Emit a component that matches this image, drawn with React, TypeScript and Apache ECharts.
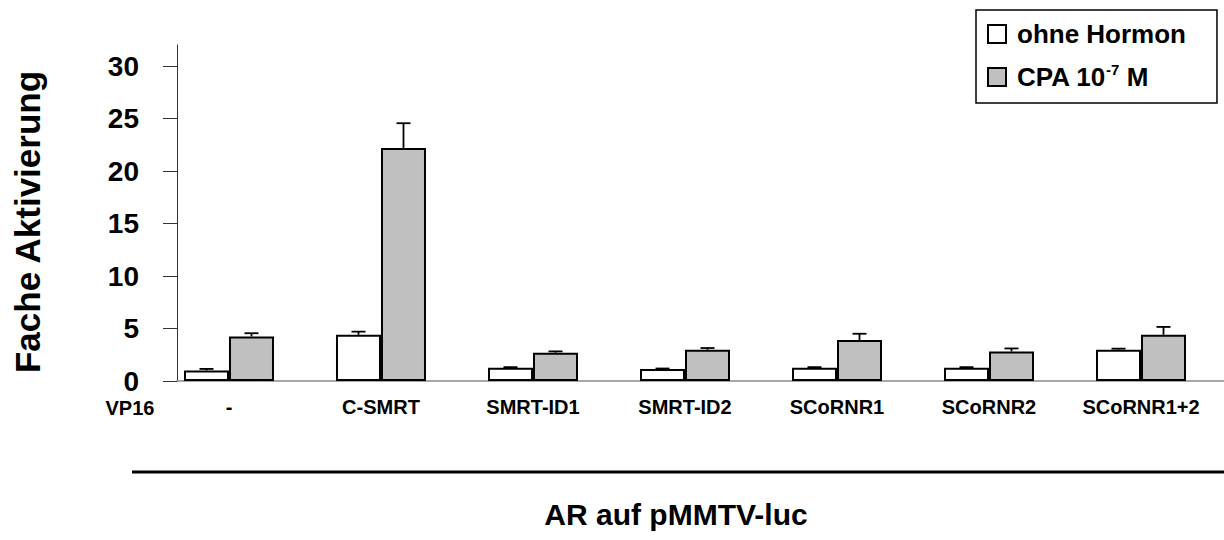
import React, { useEffect, useRef } from "react";
import * as echarts from "echarts";

const categories = ["-", "C-SMRT", "SMRT-ID1", "SMRT-ID2", "SCoRNR1", "SCoRNR2", "SCoRNR1+2"];
const seriesNames = ["ohne Hormon", "CPA 10-7 M"];
const ohneHormon = [1.0, 4.4, 1.27, 1.14, 1.27, 1.27, 2.98];
const ohneHormonErr = [0.15, 0.3, 0.05, 0.05, 0.05, 0.05, 0.1];
const cpa = [4.25, 22.2, 2.7, 2.98, 3.9, 2.82, 4.4];
const cpaErr = [0.3, 2.35, 0.12, 0.16, 0.6, 0.28, 0.75];
const yTicks = [0, 5, 10, 15, 20, 25, 30];
const yTitle = "Fache Aktivierung";
const xTitle = "AR auf pMMTV-luc";
const rowLabel = "VP16";

const FONT = '"Liberation Sans", Arial, Helvetica, sans-serif';
const BAR_W = 45;

export default function App() {
  const ref = useRef<HTMLDivElement>(null);
  useEffect(() => {
    if (!ref.current) return;
    const chart = echarts.init(ref.current, null, { renderer: "svg" });
    const idx = categories.map((_, i) => i);
    const errRender = (params: any, api: any) => {
      const x = api.value(0);
      const y = api.value(1);
      const e = api.value(2);
      const off = api.value(3);
      const base = api.coord([x, y]);
      const top = api.coord([x, y + e]);
      const cx = base[0] + off;
      const style = { stroke: "#000", lineWidth: 1.8 };
      return {
        type: "group",
        children: [
          { type: "line", shape: { x1: cx, y1: base[1], x2: cx, y2: top[1] }, style },
          { type: "line", shape: { x1: cx - 7, y1: top[1], x2: cx + 7, y2: top[1] }, style },
        ],
      };
    };
    chart.setOption({
      animation: false,
      backgroundColor: "#fff",
      textStyle: { fontFamily: FONT },
      grid: { left: 177, right: 0, top: 45, bottom: 159, containLabel: false },
      legend: {
        orient: "vertical",
        left: 976,
        top: 10,
        padding: [9, 31, 11, 11],
        itemGap: 13,
        itemWidth: 18,
        itemHeight: 18,
        backgroundColor: "#fff",
        borderColor: "#000",
        borderWidth: 1.5,
        icon: "rect",
        data: seriesNames,
        formatter: (name: string) => (name === seriesNames[1] ? "CPA 10{sup|-7} M" : name),
        textStyle: {
          fontFamily: FONT,
          fontSize: 26,
          fontWeight: "bold",
          color: "#000",
          padding: [0, 0, 0, 6],
          lineHeight: 30,
          rich: {
            sup: { fontFamily: FONT, fontSize: 15, fontWeight: "bold", color: "#000", verticalAlign: "top", lineHeight: 30 },
          },
        },
      },
      xAxis: {
        type: "value",
        min: -0.342,
        max: 6.546,
        splitLine: { show: false },
        axisTick: { show: false },
        axisLine: { show: true, onZero: false, lineStyle: { color: "#888", width: 1.5 } },
        axisLabel: {
          customValues: idx,
          formatter: (v: number) => categories[Math.round(v)] ?? "",
          fontFamily: FONT,
          fontSize: 20,
          fontWeight: "bold",
          color: "#000",
          margin: 16,
        },
      },
      yAxis: {
        type: "value",
        min: 0,
        max: 32,
        interval: 5,
        splitLine: { show: false },
        axisLine: { show: true, onZero: false, lineStyle: { color: "#333", width: 1 } },
        axisTick: { show: true, customValues: yTicks, length: 14, lineStyle: { color: "#333", width: 1 } },
        axisLabel: {
          customValues: yTicks,
          fontFamily: FONT,
          fontSize: 28,
          fontWeight: "bold",
          color: "#000",
          margin: 38,
        },
      },
      series: [
        {
          name: seriesNames[0],
          type: "bar",
          barWidth: BAR_W,
          barGap: "0%",
          data: ohneHormon.map((v, i) => [i, v]),
          itemStyle: { color: "#fff", borderColor: "#000", borderWidth: 2 },
        },
        {
          name: seriesNames[1],
          type: "bar",
          barWidth: BAR_W,
          barGap: "0%",
          data: cpa.map((v, i) => [i, v]),
          itemStyle: { color: "#c0c0c0", borderColor: "#000", borderWidth: 2 },
        },
        {
          name: "err0",
          type: "custom",
          renderItem: errRender,
          encode: { x: 0, y: 1 },
          data: ohneHormon.map((v, i) => [i, v, ohneHormonErr[i], -BAR_W / 2]),
          z: 5,
        },
        {
          name: "err1",
          type: "custom",
          renderItem: errRender,
          encode: { x: 0, y: 1 },
          data: cpa.map((v, i) => [i, v, cpaErr[i], BAR_W / 2]),
          z: 5,
        },
      ],
      graphic: [
        {
          type: "text",
          x: 27,
          y: 222,
          rotation: Math.PI / 2,
          style: { text: yTitle, fontFamily: FONT, fontSize: 35, fontWeight: "bold", fill: "#000", align: "center", verticalAlign: "middle" },
        },
        {
          type: "text",
          x: 130,
          y: 408,
          style: { text: rowLabel, fontFamily: FONT, fontSize: 20, fontWeight: "bold", fill: "#000", align: "center", verticalAlign: "middle" },
        },
        {
          type: "line",
          shape: { x1: 132, y1: 472, x2: 1224, y2: 472 },
          style: { stroke: "#000", lineWidth: 3 },
        },
        {
          type: "text",
          x: 676,
          y: 514,
          style: { text: xTitle, fontFamily: FONT, fontSize: 30, fontWeight: "bold", fill: "#000", align: "center", verticalAlign: "middle" },
        },
      ],
    });
    return () => chart.dispose();
  }, []);
  return <div ref={ref} style={{ position: "fixed", left: 0, top: 0, width: 1224, height: 540 }} />;
}
